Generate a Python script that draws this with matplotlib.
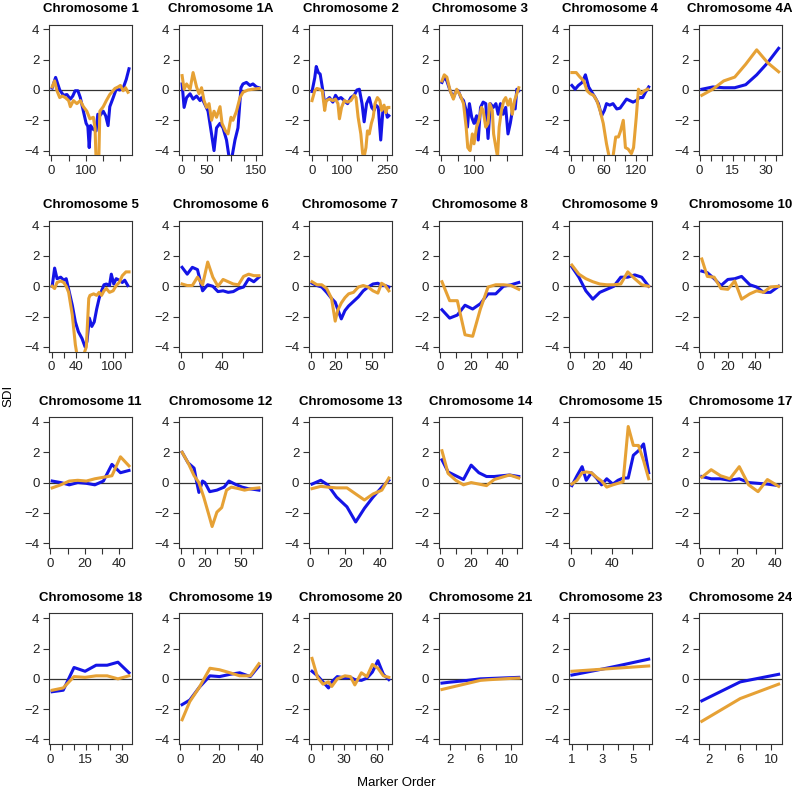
import matplotlib
matplotlib.use('Agg')
import matplotlib.pyplot as plt
import numpy as np

plt.rcParams['font.family'] = ['Liberation Sans', 'DejaVu Sans']

BLUE = '#1414e6'
ORANGE = '#e6a135'

# ---- data (x = marker order, y = SDI) ----
c1_bx = [2, 12, 24, 35, 45, 55, 62, 69, 77, 84, 93, 101, 106, 110, 114, 122, 130, 135, 141, 151, 158, 165, 170, 180, 189, 199, 209, 218, 226]
c1_by = [0.13, 0.83, 0.0, -0.35, -0.3, -0.6, -0.4, -0.05, -0.05, -0.5, -1.4, -2.2, -2.4, -3.8, -2.35, -2.6, -2.7, -1.6, -1.7, -1.4, -1.7, -2.35, -1.1, -0.5, 0.07, 0.0, 0.13, 0.7, 1.4]
c1_ox = [2, 9, 16, 24, 32, 40, 50, 55, 64, 74, 84, 93, 103, 112, 122, 127, 130, 138, 141, 151, 160, 170, 185, 194, 201, 209, 216, 223]
c1_oy = [0.2, 0.6, -0.05, -0.5, -0.4, -0.5, -0.7, -1.1, -0.7, -0.9, -0.7, -1.1, -1.4, -1.9, -1.8, -2.5, -4.6, -4.6, -1.4, -1.1, -0.7, -0.3, 0.1, 0.2, 0.3, -0.05, 0.15, -0.15]

c1a_bx = [1, 5, 10, 17, 23, 30, 37, 40, 46, 53, 60, 65, 70, 77, 83, 90, 95, 100, 107, 113, 119, 123, 130, 137, 143, 150, 155]
c1a_by = [0.4, -1.15, -0.5, -0.25, -0.6, -0.4, -0.7, -0.5, -0.9, -1.4, -2.9, -4.0, -2.5, -2.2, -2.5, -3.3, -4.4, -4.6, -3.3, -2.5, 0.15, 0.4, 0.5, 0.3, 0.4, 0.2, 0.15]
c1a_ox = [1, 5, 10, 17, 23, 30, 35, 40, 45, 50, 55, 60, 65, 70, 77, 81, 88, 93, 99, 103, 110, 117, 123, 133, 143, 155]
c1a_oy = [0.95, 0.05, 0.4, 0.05, 1.15, 0.2, -0.25, 0.15, -0.7, -1.15, -0.9, -2.0, -1.4, -1.8, -1.1, -2.2, -2.7, -2.9, -1.8, -2.0, -1.4, -0.5, -0.15, 0.0, 0.05, 0.1]

c2_bx = [0, 9, 14, 21, 27, 34, 42, 47, 58, 69, 78, 86, 96, 107, 118, 129, 140, 149, 157, 166, 173, 181, 190, 198, 206, 212, 220, 228, 236, 245, 250, 255]
c2_by = [-0.1, 0.8, 1.55, 1.15, 1.05, 0.2, -0.9, -0.7, -0.5, -0.8, -0.35, -0.6, -0.5, -0.7, -0.9, -0.5, -0.35, 0.0, 0.05, -0.9, -2.1, -0.9, -0.5, -1.15, -1.35, -1.0, -1.15, -3.3, -1.15, -1.35, -1.8, -1.7]
c2_ox = [0, 9, 16, 25, 34, 42, 47, 58, 69, 78, 86, 91, 98, 107, 118, 129, 140, 146, 153, 162, 168, 173, 179, 184, 190, 197, 203, 209, 217, 225, 231, 239, 245, 250, 255]
c2_oy = [-0.7, -0.05, 0.1, 0.05, -0.05, -1.35, -0.7, -0.6, -0.7, -0.6, -0.9, -1.9, -1.15, -0.7, -0.8, -0.7, -0.35, -0.5, -1.8, -2.9, -4.2, -4.4, -3.8, -2.7, -2.9, -2.2, -1.8, -0.9, -0.5, -0.7, -1.35, -1.0, -1.5, -1.15, -1.15]

c3_bx = [2, 9, 17, 27, 37, 45, 52, 60, 68, 76, 80, 86, 93, 100, 108, 113, 120, 128, 136, 143, 150, 159, 167, 174, 181, 189, 197, 204, 211, 219, 226, 231, 237]
c3_by = [0.5, 0.85, 0.6, -0.05, -0.5, -0.05, -0.05, -0.5, -0.7, -1.35, -2.45, -0.9, -1.8, -2.2, -1.7, -3.3, -1.15, -0.8, -0.9, -3.2, -0.9, -1.15, -0.9, -1.6, -0.9, -1.6, -1.15, -2.9, -2.2, -1.15, -1.25, 0.05, -0.05]
c3_ox = [2, 9, 17, 27, 37, 47, 58, 68, 76, 81, 88, 95, 100, 108, 115, 123, 128, 136, 143, 148, 156, 160, 167, 172, 177, 184, 191, 197, 204, 211, 217, 224, 231, 237]
c3_oy = [0.6, 1.0, 0.85, -0.05, -0.6, 0.05, -0.35, -0.9, -2.45, -3.8, -4.0, -2.9, -3.55, -2.45, -2.0, -1.15, -1.35, -2.45, -2.2, -0.9, -1.35, -2.9, -3.8, -4.4, -2.45, -1.35, -0.7, -0.5, -1.0, -0.6, -1.6, -0.7, -0.25, 0.15]

c4_bx = [1, 7, 13, 20, 26, 32, 38, 44, 50, 56, 61, 65, 71, 77, 84, 90, 96, 102, 108, 114, 120, 126, 132, 137, 143]
c4_by = [0.3, 0.05, 0.3, 0.5, 1.0, 0.2, -0.15, -0.5, -0.9, -1.7, -1.35, -0.9, -1.0, -0.9, -1.25, -1.2, -0.9, -0.6, -0.7, -0.8, -0.7, -0.5, -0.5, -0.15, 0.2]
c4_ox = [1, 9, 16, 23, 29, 35, 41, 47, 53, 59, 65, 71, 77, 82, 87, 91, 96, 100, 105, 111, 115, 120, 124, 129, 135, 141]
c4_oy = [1.15, 1.15, 0.85, 0.6, -0.05, -0.25, -0.35, -0.7, -1.35, -2.2, -3.55, -4.6, -4.4, -3.1, -3.1, -2.7, -2.0, -3.8, -3.9, -4.2, -3.8, -1.8, 0.05, -0.25, -0.05, 0.05]

c4a_x = [1, 6, 11, 16, 21, 26, 31, 36]
c4a_b = [0.05, 0.2, 0.15, 0.15, 0.35, 1.0, 1.8, 2.75]
c4a_o = [-0.35, 0.05, 0.6, 0.85, 1.7, 2.65, 1.8, 1.2]

c5_bx = [1, 5, 9, 15, 20, 24, 28, 34, 39, 44, 50, 55, 58, 62, 66, 70, 74, 78, 82, 86, 90, 95, 98, 102, 106, 111, 116, 120, 125]
c5_by = [0, 1.2, 0.5, 0.6, 0.4, 0.5, -0.2, -1.25, -2.35, -3.0, -3.45, -4.0, -3.65, -2.1, -2.65, -2.35, -1.5, -0.8, -0.3, 0.1, 0.15, 0.05, 0.8, 0.15, 0.5, 0.4, 0.25, 0.4, 0.05]
c5_ox = [1, 5, 9, 15, 20, 24, 28, 34, 39, 42, 52, 57, 61, 63, 69, 74, 78, 82, 86, 90, 95, 101, 106, 111, 116, 122, 127]
c5_oy = [0, -0.15, 0.25, 0.35, 0.25, 0, -0.4, -1.9, -3.85, -4.6, -4.6, -4.0, -0.8, -0.6, -0.5, -0.6, -0.4, -0.6, -0.3, -0.15, -0.4, -0.3, 0.05, 0.25, 0.7, 0.95, 0.95]

c6_x = [1, 6, 11, 16, 21, 26, 31, 36, 41, 46, 51, 56, 61, 66, 71, 76]
c6_b = [1.25, 0.8, 1.25, 1.1, -0.3, 0.1, 0.0, -0.35, -0.3, -0.4, -0.35, -0.15, -0.05, 0.5, 0.3, 0.6]
c6_o = [0.15, 0.05, 0.05, 0.6, 0.1, 1.6, 0.6, 0.0, 0.45, 0.3, 0.15, 0.1, 0.65, 0.8, 0.7, 0.7]

c7_x = [1, 5, 9, 13, 17, 20, 22, 25, 28, 31, 35, 39, 43, 47, 51, 55, 58, 61, 64]
c7_b = [0.2, 0.05, -0.05, -0.4, -0.8, -1.05, -1.5, -2.15, -1.6, -1.3, -1.0, -0.7, -0.3, -0.05, 0.15, 0.2, 0.05, 0.05, -0.05]
c7_o = [0.3, 0.1, 0.1, -0.15, -0.8, -2.3, -1.6, -1.1, -0.75, -0.5, -0.4, -0.05, 0.05, -0.05, -0.3, -0.45, 0.2, 0.05, -0.3]

c8_x = [1, 6, 11, 16, 21, 26, 31, 36, 41, 46, 51]
c8_b = [-1.55, -2.1, -1.9, -1.25, -1.5, -1.15, -0.5, -0.5, 0.0, 0.1, 0.25]
c8_o = [0.3, -0.95, -0.95, -3.2, -3.3, -1.5, -0.05, 0.1, 0.1, 0.05, -0.2]

c9_x = [1, 6, 11, 16, 21, 26, 31, 36, 41, 46, 51, 56]
c9_b = [1.28, 0.6, -0.3, -0.85, -0.4, -0.2, 0.0, 0.6, 0.6, 0.75, 0.6, 0.0]
c9_o = [1.4, 0.8, 0.5, 0.3, 0.15, 0.1, 0.1, 0.15, 0.95, 0.5, 0.1, 0.0]

c10_x = [1, 5, 10, 15, 20, 25, 30, 36, 41, 46, 51, 57]
c10_b = [1.0, 0.9, 0.5, 0.05, 0.45, 0.5, 0.65, 0.1, -0.05, -0.4, -0.4, 0.0]
c10_o = [1.8, 0.65, 0.6, -0.15, -0.2, 0.35, -0.85, -0.5, -0.3, -0.4, -0.05, 0.0]

c11_x = [1, 6, 11, 16, 21, 26, 31, 36, 41, 46]
c11_b = [0.1, 0.0, -0.15, 0.0, -0.05, -0.15, 0.1, 1.2, 0.65, 0.8]
c11_o = [-0.35, -0.15, 0.1, 0.15, 0.1, 0.25, 0.35, 0.45, 1.7, 1.1]

c12_bx = [1, 6, 11, 13, 15, 18, 20, 24, 30, 36, 40, 45, 51, 56, 61, 65]
c12_by = [2.0, 1.3, 0.95, 0.1, -0.65, 0.1, 0.0, -0.6, -0.5, -0.3, 0.1, -0.1, -0.3, -0.4, -0.45, -0.5]
c12_ox = [1, 6, 11, 15, 19, 23, 26, 30, 34, 38, 42, 48, 53, 59, 65]
c12_oy = [2.0, 1.3, 0.45, 0.0, -0.95, -2.05, -2.9, -1.95, -1.65, -0.5, -0.3, -0.4, -0.5, -0.4, -0.35]

c13_x = [1, 6, 10, 15, 21, 26, 31, 36, 41, 45]
c13_b = [-0.1, 0.15, -0.15, -0.95, -1.6, -2.6, -1.7, -0.95, -0.3, 0.15]
c13_o = [-0.4, -0.25, -0.3, -0.35, -0.35, -0.75, -1.15, -0.75, -0.5, 0.3]

c14_x = [1, 5, 10, 15, 20, 25, 30, 35, 40, 45, 51]
c14_b = [1.5, 0.7, 0.45, 0.2, 1.15, 0.65, 0.4, 0.4, 0.45, 0.5, 0.4]
c14_o = [2.1, 0.6, 0.15, -0.15, 0.0, -0.1, -0.2, 0.2, 0.35, 0.5, 0.3]

c15_x = [1, 6, 11, 15, 20, 25, 30, 35, 41, 46, 51, 56, 61, 66, 71, 76]
c15_b = [-0.2, 0.45, 1.05, 0.15, 0.65, 0.3, -0.15, 0.25, -0.1, 0.15, 0.3, 0.3, 1.8, 2.1, 2.55, 0.65]
c15_o = [-0.1, 0.15, 0.65, 0.7, 0.65, 0.35, 0.1, -0.3, -0.15, -0.05, 0.05, 3.7, 2.45, 2.45, 1.45, 0.25]

c17_x = [1, 6, 11, 16, 21, 26, 31, 36, 42]
c17_b = [0.4, 0.25, 0.25, 0.15, 0.25, 0.0, -0.05, -0.1, -0.2]
c17_o = [0.35, 0.85, 0.45, 0.25, 1.05, -0.15, -0.6, 0.2, -0.25]

c18_x = [1, 5.6, 10.1, 14.7, 19.3, 23.9, 28.4, 33]
c18_b = [-0.85, -0.75, 0.75, 0.5, 0.9, 0.9, 1.1, 0.4]
c18_o = [-0.75, -0.6, 0.15, 0.1, 0.2, 0.2, 0.0, 0.2]

c19_x = [1, 5, 10, 15.5, 20.5, 26, 31, 36.5, 41]
c19_b = [-1.7, -1.4, -0.55, 0.2, 0.15, 0.3, 0.4, 0.15, 0.85]
c19_o = [-2.7, -1.5, -0.55, 0.7, 0.6, 0.4, 0.2, 0.2, 1.0]

c20_x = [1, 6, 11, 16, 19, 24, 31, 36, 40, 46, 51, 56, 61, 66, 71]
c20_b = [0.5, 0.2, -0.2, -0.6, -0.2, 0.15, 0.05, 0.1, -0.05, -0.1, 0.05, 0.45, 1.2, 0.3, -0.05]
c20_o = [1.35, 0.1, -0.35, -0.2, -0.5, 0.0, 0.2, 0.15, -0.4, 0.4, 0.15, 0.95, 0.7, 0.2, 0.1]

c21_x = [1, 2, 3, 4, 5, 6, 7, 8, 9, 10, 11]
c21_b = [-0.28, -0.22, -0.17, -0.12, -0.06, 0.0, 0.02, 0.04, 0.06, 0.08, 0.1]
c21_o = [-0.7, -0.58, -0.46, -0.34, -0.22, -0.1, -0.06, -0.03, 0.0, 0.03, 0.05]

c23_x = [1, 2, 3, 4, 5, 6]
c23_b = [0.25, 0.45, 0.65, 0.86, 1.08, 1.3]
c23_o = [0.5, 0.57, 0.64, 0.71, 0.78, 0.85]

c24_x = [1, 6, 11]
c24_b = [-1.45, -0.2, 0.3]
c24_o = [-2.8, -1.3, -0.35]

# title, blue x, blue y, orange x, orange y, tick step, labelled ticks
panels = [
    ('Chromosome 1', c1_bx, c1_by, c1_ox, c1_oy, 50, [0, 100]),
    ('Chromosome 1A', c1a_bx, c1a_by, c1a_ox, c1a_oy, 25, [0, 50, 150]),
    ('Chromosome 2', c2_bx, c2_by, c2_ox, c2_oy, 50, [0, 100, 250]),
    ('Chromosome 3', c3_bx, c3_by, c3_ox, c3_oy, 50, [0, 100]),
    ('Chromosome 4', c4_bx, c4_by, c4_ox, c4_oy, 20, [0, 60, 120]),
    ('Chromosome 4A', c4a_x, c4a_b, c4a_x, c4a_o, 5, [0, 15, 30]),
    ('Chromosome 5', c5_bx, c5_by, c5_ox, c5_oy, 20, [0, 40, 100]),
    ('Chromosome 6', c6_x, c6_b, c6_x, c6_o, 20, [0, 40]),
    ('Chromosome 7', c7_x, c7_b, c7_x, c7_o, 10, [0, 20, 50]),
    ('Chromosome 8', c8_x, c8_b, c8_x, c8_o, 10, [0, 20, 40]),
    ('Chromosome 9', c9_x, c9_b, c9_x, c9_o, 10, [0, 20, 40]),
    ('Chromosome 10', c10_x, c10_b, c10_x, c10_o, 10, [0, 20, 40]),
    ('Chromosome 11', c11_x, c11_b, c11_x, c11_o, 10, [0, 20, 40]),
    ('Chromosome 12', c12_bx, c12_by, c12_ox, c12_oy, 10, [0, 20, 50]),
    ('Chromosome 13', c13_x, c13_b, c13_x, c13_o, 10, [0, 20, 40]),
    ('Chromosome 14', c14_x, c14_b, c14_x, c14_o, 10, [0, 20, 40]),
    ('Chromosome 15', c15_x, c15_b, c15_x, c15_o, 20, [0, 40]),
    ('Chromosome 17', c17_x, c17_b, c17_x, c17_o, 10, [0, 20, 40]),
    ('Chromosome 18', c18_x, c18_b, c18_x, c18_o, 5, [0, 15, 30]),
    ('Chromosome 19', c19_x, c19_b, c19_x, c19_o, 10, [0, 20, 40]),
    ('Chromosome 20', c20_x, c20_b, c20_x, c20_o, 10, [0, 30, 60]),
    ('Chromosome 21', c21_x, c21_b, c21_x, c21_o, 2, [2, 6, 10]),
    ('Chromosome 23', c23_x, c23_b, c23_x, c23_o, 1, [1, 3, 5]),
    ('Chromosome 24', c24_x, c24_b, c24_x, c24_o, 2, [2, 6, 10]),
]

fig, axes = plt.subplots(4, 6, figsize=(7.92, 7.91), dpi=100)
fig.subplots_adjust(left=0.062, right=0.987, bottom=0.059, top=0.969,
                    wspace=0.566, hspace=0.499)

for ax, (title, bx, by, ox, oy, step, labelled) in zip(axes.flat, panels):
    ax.axhline(0, color='#333333', lw=0.9, zorder=1)
    ax.plot(bx, by, color=BLUE, lw=2.2, zorder=2, solid_joinstyle='round')
    ax.plot(ox, oy, color=ORANGE, lw=2.2, zorder=3, solid_joinstyle='round')

    # R style limits: data range plus 4 %
    lo = min(min(bx), min(ox))
    hi = max(max(bx), max(ox))
    pad = 0.04 * (hi - lo)
    ax.set_xlim(lo - pad, hi + pad)
    ax.set_ylim(-4.32, 4.32)

    first = max(0, int(np.ceil((lo - pad) / step))) * step
    ticks = list(range(first, int(hi + pad) + 1, step))
    ax.set_xticks(ticks)
    ax.set_xticklabels([str(t) if t in labelled else '' for t in ticks])
    ax.set_yticks([-4, -2, 0, 2, 4])
    ax.set_yticklabels(['\u22124', '\u22122', '0', '2', '4'])

    ax.tick_params(direction='out', length=4, width=0.8, color='#333333',
                   labelsize=9.5, labelcolor='#222222', pad=3)
    for s in ax.spines.values():
        s.set_color('#333333')
        s.set_linewidth(0.8)
    ax.set_title(title, fontsize=9.5, fontweight='bold', pad=9)

fig.text(0.011, 0.5, 'SDI', rotation=90, ha='center', va='center', fontsize=9.5)
fig.text(0.5, 0.01, 'Marker Order', ha='center', va='center', fontsize=9.5)

fig.savefig('out.png', dpi=100)
